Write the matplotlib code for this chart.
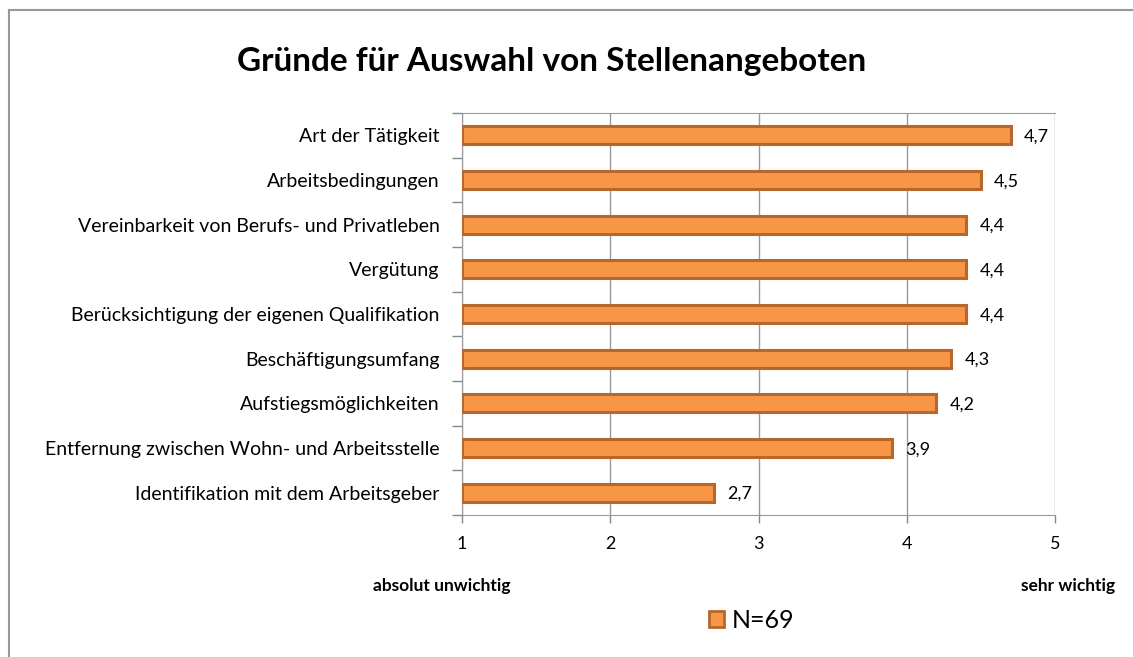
import matplotlib
matplotlib.use("Agg")
import matplotlib.pyplot as plt
from matplotlib.patches import Patch
from matplotlib.lines import Line2D

plt.rcParams['font.family'] = ['Lato', 'DejaVu Sans']

categories = [
    "Art der Tätigkeit",
    "Arbeitsbedingungen",
    "Vereinbarkeit von Berufs- und Privatleben",
    "Vergütung",
    "Berücksichtigung der eigenen Qualifikation",
    "Beschäftigungsumfang",
    "Aufstiegsmöglichkeiten",
    "Entfernung zwischen Wohn- und Arbeitsstelle",
    "Identifikation mit dem Arbeitsgeber",
]
values = [4.7, 4.5, 4.4, 4.4, 4.4, 4.3, 4.2, 3.9, 2.7]
x_ticks = [1, 2, 3, 4, 5]
series_label = "N=69"

FILL = "#F79646"
EDGE = "#B7672C"
W, H = 1133, 657

fig = plt.figure(figsize=(W / 100, H / 100), dpi=100)
ax = fig.add_axes([462 / W, 1 - 515 / H, (1055 - 462) / W, (515 - 113) / H])

n = len(categories)
ypos = list(range(n))[::-1]
ax.barh(ypos, [v - 1 for v in values], left=1, height=0.4,
        color=FILL, edgecolor=EDGE, linewidth=2.2, zorder=3)
for y, v in zip(ypos, values):
    ax.text(v + 0.09, y - 0.03, f"{v:.1f}".replace(".", ","), va="center", ha="left",
            fontsize=13, zorder=4)

ax.set_xlim(1, 5)
ax.set_ylim(-0.5, n - 0.5)
ax.set_xticks(x_ticks)
ax.set_xticklabels([str(t) for t in x_ticks], fontsize=13)
ax.set_yticks(ypos)
ax.set_yticklabels(categories, fontsize=14)
ax.tick_params(axis="y", length=0, pad=16)
ax.tick_params(axis="x", length=6, width=1, color="#888888", pad=9)
# category boundary ticks on the left spine
ax.set_yticks([i - 0.5 for i in range(n + 1)], minor=True)
ax.tick_params(axis="y", which="minor", length=7, width=1, color="#888888")
ax.grid(axis="x", color="#999999", linewidth=1, zorder=0)
for side in ["left", "bottom", "top", "right"]:
    ax.spines[side].set_color("#999999")
ax.spines["right"].set_visible(False)

fig.text(552 / W, 1 - 61 / H, "Gründe für Auswahl von Stellenangeboten",
         ha="center", va="center", fontsize=24, fontweight="bold")
fig.text(442 / W, 1 - 586 / H, "absolut unwichtig", ha="center", va="center",
         fontsize=12.5, fontweight="bold")
fig.text(1068 / W, 1 - 586 / H, "sehr wichtig", ha="center", va="center",
         fontsize=12.5, fontweight="bold")

handle = Patch(facecolor=FILL, edgecolor=EDGE, linewidth=2)
fig.legend([handle], [series_label], loc="center", bbox_to_anchor=(752 / W, 1 - 620 / H),
           frameon=False, fontsize=18, handlelength=0.6, handleheight=0.6,
           handletextpad=0.3)

# outer chart border (top and left visible)
fig.add_artist(Line2D([9 / W, 1], [1 - 10 / H, 1 - 10 / H], color="#999999", lw=1.5))
fig.add_artist(Line2D([9 / W, 9 / W], [0, 1 - 10 / H], color="#999999", lw=1.5))

fig.savefig("out.png", dpi=100, facecolor="white")
